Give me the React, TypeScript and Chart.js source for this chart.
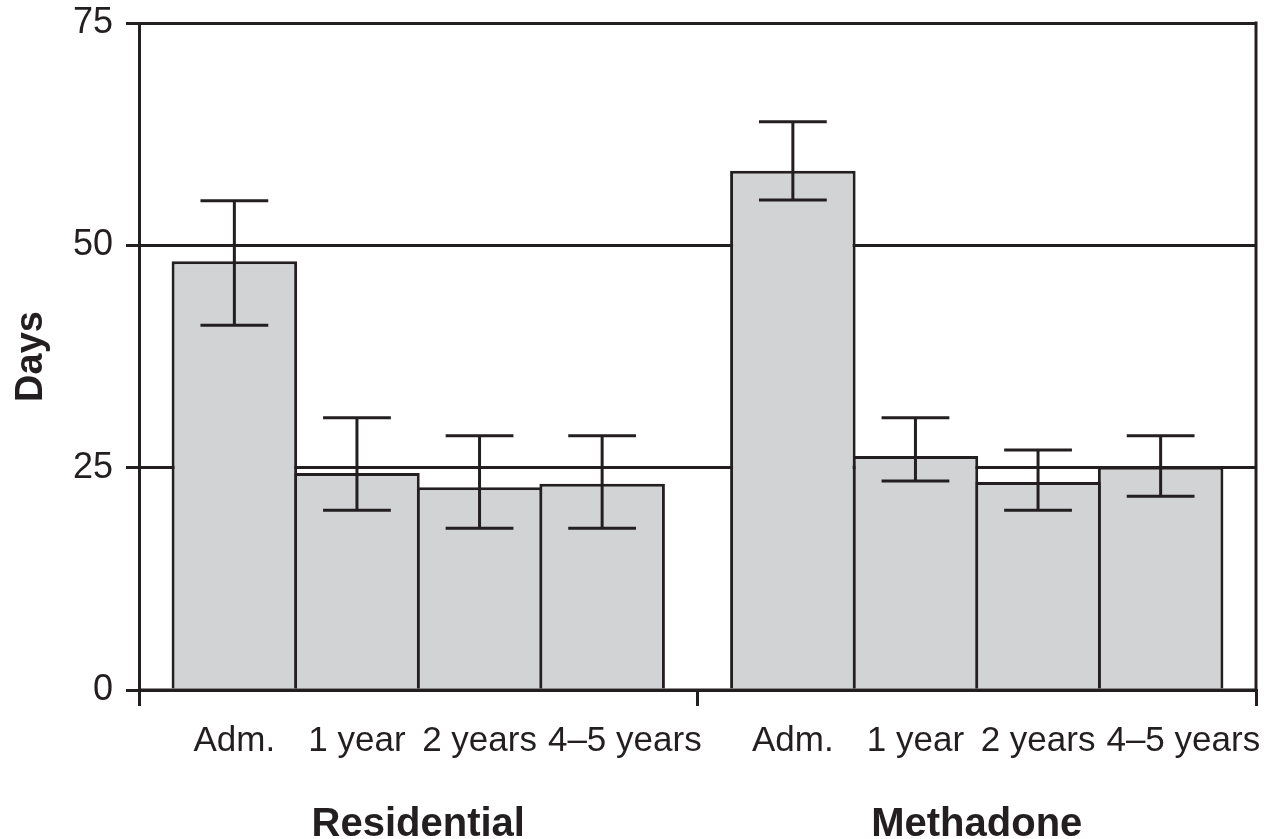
import React, { useEffect, useRef } from 'react';
import { Chart, registerables } from 'chart.js';

Chart.register(...registerables);

// ---- data ----
const groups = ['Residential', 'Methadone'];
const timepoints = ['Adm.', '1 year', '2 years', '4–5 years'];
const residentialMean = [48.2, 24.4, 22.8, 23.2];
const residentialLow = [41.0, 20.2, 18.2, 18.2];
const residentialHigh = [55.0, 30.6, 28.6, 28.6];
const methadoneMean = [58.4, 26.3, 23.4, 25.1];
const methadoneLow = [55.1, 23.5, 20.2, 21.8];
const methadoneHigh = [63.9, 30.6, 27.0, 28.6];
const yTicks = [0, 25, 50, 75];
const yTitle = 'Days';

const INK = '#231f20';
const FILL = '#d1d3d4';
const FONT = '"Liberation Sans", Arial, Helvetica, sans-serif';

const errorBarPlugin = {
  id: 'errorBars',
  afterDatasetsDraw(chart: any) {
    const { ctx, chartArea } = chart;
    const y = chart.scales.y;
    ctx.save();
    ctx.strokeStyle = INK;
    ctx.lineWidth = 3;
    // redraw baseline over bar fills
    ctx.beginPath();
    ctx.moveTo(chartArea.left, y.getPixelForValue(0));
    ctx.lineTo(chartArea.right, y.getPixelForValue(0));
    ctx.stroke();
    chart.data.datasets.forEach((ds: any, i: number) => {
      const meta = chart.getDatasetMeta(i);
      meta.data.forEach((bar: any, j: number) => {
        const lo = y.getPixelForValue(ds.errLow[j]);
        const hi = y.getPixelForValue(ds.errHigh[j]);
        const half = bar.width * 0.27;
        ctx.beginPath();
        ctx.moveTo(bar.x, lo);
        ctx.lineTo(bar.x, hi);
        ctx.moveTo(bar.x - half, lo);
        ctx.lineTo(bar.x + half, lo);
        ctx.moveTo(bar.x - half, hi);
        ctx.lineTo(bar.x + half, hi);
        ctx.stroke();
      });
    });
    ctx.restore();
  },
};

const framePlugin = {
  id: 'frameAndLabels',
  afterDraw(chart: any) {
    const { ctx, chartArea } = chart;
    ctx.save();
    // right border
    ctx.strokeStyle = INK;
    ctx.lineWidth = 3;
    ctx.beginPath();
    ctx.moveTo(chartArea.right, chartArea.top - 1.5);
    ctx.lineTo(chartArea.right, chartArea.bottom);
    ctx.stroke();
    // time-point labels under each bar (pushed right when they would collide)
    ctx.fillStyle = INK;
    ctx.font = `35px ${FONT}`;
    ctx.textAlign = 'left';
    ctx.textBaseline = 'alphabetic';
    const gap = 11;
    for (let g = 0; g < chart.data.labels.length; g++) {
      let prevEnd = -Infinity;
      chart.data.datasets.forEach((ds: any, i: number) => {
        const bar: any = chart.getDatasetMeta(i).data[g];
        const w = ctx.measureText(ds.label).width;
        const start = Math.max(bar.x - w / 2, prevEnd + gap);
        ctx.fillText(ds.label, start, chartArea.bottom + 61);
        prevEnd = start + w;
      });
    }
    ctx.restore();
  },
};

export default function App() {
  const canvasRef = useRef<HTMLCanvasElement | null>(null);

  useEffect(() => {
    document.body.style.margin = '0';
    const canvas = canvasRef.current;
    if (!canvas) return;

    const datasets = timepoints.map((tp, i) => ({
      label: tp,
      data: [residentialMean[i], methadoneMean[i]],
      errLow: [residentialLow[i], methadoneLow[i]],
      errHigh: [residentialHigh[i], methadoneHigh[i]],
      backgroundColor: FILL,
      borderColor: INK,
      borderWidth: 3,
      borderSkipped: 'start',
      categoryPercentage: 0.878,
      barPercentage: 1.024,
    }));

    const chart = new Chart(canvas, {
      type: 'bar',
      data: { labels: groups, datasets: datasets as any },
      options: {
        animation: false,
        responsive: true,
        maintainAspectRatio: false,
        layout: { padding: { top: 23, right: 18, left: 0, bottom: 0 } },
        plugins: {
          legend: { display: false },
          tooltip: { enabled: false },
        },
        scales: {
          x: {
            type: 'category',
            offset: true,
            grid: {
              offset: true,
              drawOnChartArea: false,
              drawTicks: true,
              tickLength: 16,
              color: INK,
              lineWidth: 3,
            },
            border: { display: true, color: INK, width: 3 },
            ticks: {
              color: INK,
              font: { family: FONT, size: 40, weight: 'bold' },
              padding: 95,
              maxRotation: 0,
              autoSkip: false,
            },
            afterFit(scale: any) {
              scale.height = 149;
            },
          },
          y: {
            min: 0,
            max: 75,
            afterBuildTicks(scale: any) {
              scale.ticks = yTicks.map((v) => ({ value: v }));
            },
            grid: {
              color: INK,
              lineWidth: 3,
              tickLength: 13,
              drawTicks: true,
            },
            border: { display: true, color: INK, width: 3 },
            ticks: {
              color: INK,
              font: { family: FONT, size: 36 },
              padding: 13,
            },
            title: {
              display: true,
              text: yTitle,
              color: INK,
              font: { family: FONT, size: 38, weight: 'bold' },
              padding: { top: 9, bottom: 0 },
            },
            afterFit(scale: any) {
              scale.width = 139;
              scale.paddingTop = 0;
              scale.paddingBottom = 0;
            },
          },
        },
      },
      plugins: [errorBarPlugin, framePlugin],
    } as any);

    return () => chart.destroy();
  }, []);

  return (
    <div style={{ position: 'relative', width: '1274px', height: '839px' }}>
      <canvas ref={canvasRef} />
    </div>
  );
}
